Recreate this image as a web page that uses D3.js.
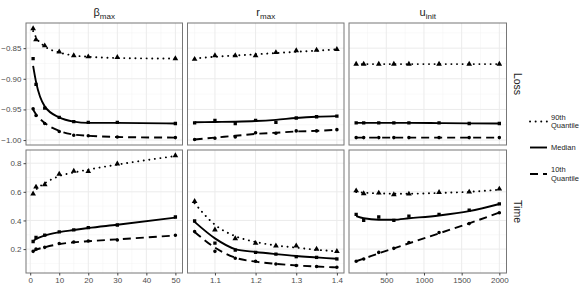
<!DOCTYPE html>
<html><head><meta charset="utf-8">
<script src="https://cdn.jsdelivr.net/npm/d3@7"></script>
<style>body{margin:0;background:#fff}svg{display:block;font-family:"Liberation Sans",Arial,sans-serif}</style>
</head><body><svg id="c" width="588" height="290"></svg>
<script>
// ---- data ----
const xBeta = [1, 2, 5, 10, 15, 20, 30, 50];
const xR = [1.05, 1.1, 1.15, 1.2, 1.25, 1.3, 1.35, 1.4];
const xU = [100, 200, 400, 600, 800, 1200, 1600, 2000];

const xTicksBeta = [0, 10, 20, 30, 40, 50];
const xTicksR = [1.1, 1.2, 1.3, 1.4];
const xTicksU = [500, 1000, 1500, 2000];
const yTicksLoss = [-0.85, -0.90, -0.95, -1.00];
const yTicksTime = [0.2, 0.4, 0.6, 0.8];

const colLabels = [["β", "max"], ["r", "max"], ["u", "init"]];
const rowLabels = ["Loss", "Time"];
const seriesNames = ["90th\nQuantile", "Median", "10th\nQuantile"];

// Loss: observed points
const lossBetaQ90 = [-0.818, -0.836, -0.846, -0.856, -0.862, -0.864, -0.865, -0.867];
const lossBetaMed = [-0.867, -0.909, -0.948, -0.963, -0.970, -0.971, -0.971, -0.973];
const lossBetaQ10 = [-0.949, -0.960, -0.973, -0.986, -0.992, -0.993, -0.995, -0.996];
const lossRQ90 = [-0.868, -0.862, -0.862, -0.862, -0.857, -0.854, -0.853, -0.852];
const lossRMed = [-0.972, -0.968, -0.973, -0.968, -0.971, -0.964, -0.962, -0.961];
const lossRQ10 = [-0.999, -0.997, -0.995, -0.988, -0.989, -0.985, -0.985, -0.983];
const lossUQ90 = [-0.876, -0.876, -0.876, -0.876, -0.876, -0.876, -0.876, -0.876];
const lossUMed = [-0.972, -0.972, -0.972, -0.972, -0.972, -0.972, -0.973, -0.973];
const lossUQ10 = [-0.996, -0.996, -0.996, -0.996, -0.996, -0.996, -0.996, -0.996];
// Loss: smoothed fits
const lossBetaQ90Fit = [-0.822, -0.832, -0.847, -0.857, -0.862, -0.864, -0.866, -0.867];
const lossBetaMedFit = [-0.879, -0.905, -0.945, -0.963, -0.970, -0.972, -0.972, -0.973];
const lossBetaQ10Fit = [-0.950, -0.958, -0.972, -0.985, -0.991, -0.993, -0.995, -0.996];
const lossRQ90Fit = [-0.867, -0.864, -0.862, -0.860, -0.858, -0.856, -0.854, -0.852];
const lossRMedFit = [-0.971, -0.9705, -0.970, -0.969, -0.967, -0.964, -0.962, -0.961];
const lossRQ10Fit = [-0.999, -0.996, -0.993, -0.990, -0.988, -0.986, -0.985, -0.983];
const lossUQ90Fit = [-0.876, -0.876, -0.876, -0.876, -0.876, -0.876, -0.876, -0.876];
const lossUMedFit = [-0.972, -0.972, -0.972, -0.972, -0.972, -0.9723, -0.9727, -0.973];
const lossUQ10Fit = [-0.996, -0.996, -0.996, -0.996, -0.996, -0.996, -0.996, -0.996];

// Time: observed points
const timeBetaQ90 = [0.586, 0.634, 0.650, 0.724, 0.745, 0.742, 0.795, 0.853];
const timeBetaMed = [0.253, 0.281, 0.297, 0.320, 0.334, 0.350, 0.368, 0.424];
const timeBetaQ10 = [0.184, 0.200, 0.212, 0.239, 0.250, 0.257, 0.264, 0.297];
const timeRQ90 = [0.534, 0.335, 0.274, 0.241, 0.223, 0.223, 0.200, 0.184];
const timeRMed = [0.396, 0.241, 0.193, 0.177, 0.165, 0.147, 0.142, 0.131];
const timeRQ10 = [0.322, 0.184, 0.136, 0.115, 0.096, 0.085, 0.078, 0.073];
const timeUQ90 = [0.608, 0.588, 0.592, 0.581, 0.585, 0.597, 0.599, 0.620];
const timeUMed = [0.442, 0.401, 0.424, 0.401, 0.430, 0.442, 0.472, 0.516];
const timeUQ10 = [0.115, 0.131, 0.177, 0.205, 0.246, 0.316, 0.378, 0.454];
// Time: smoothed fits
const timeBetaQ90Fit = [0.590, 0.615, 0.660, 0.710, 0.735, 0.755, 0.790, 0.850];
const timeBetaMedFit = [0.255, 0.270, 0.295, 0.318, 0.333, 0.347, 0.370, 0.420];
const timeBetaQ10Fit = [0.185, 0.195, 0.213, 0.235, 0.247, 0.255, 0.268, 0.295];
const timeRQ90Fit = [0.520, 0.370, 0.290, 0.250, 0.225, 0.210, 0.195, 0.185];
const timeRMedFit = [0.390, 0.275, 0.200, 0.180, 0.165, 0.152, 0.142, 0.132];
const timeRQ10Fit = [0.320, 0.210, 0.140, 0.112, 0.097, 0.086, 0.078, 0.072];
const timeUQ90Fit = [0.598, 0.594, 0.589, 0.587, 0.587, 0.592, 0.600, 0.615];
const timeUMedFit = [0.430, 0.415, 0.405, 0.405, 0.415, 0.435, 0.465, 0.515];
const timeUQ10Fit = [0.115, 0.133, 0.170, 0.205, 0.240, 0.310, 0.380, 0.455];

// ---- layout ----
const svg = d3.select("#c");
const colsPx = [[26, 182.5], [187.5, 344], [349, 506.5]];
const rowsPx = [[23, 145], [150, 273]];
const xs = [xBeta, xR, xU];
const xTicks = [xTicksBeta, xTicksR, xTicksU];
const yTicks = [yTicksLoss, yTicksTime];
const xFmt = [d3.format("d"), d3.format(".1f"), d3.format("d")];
const yFmt = [d3.format(".2f"), d3.format(".1f")];

const points = [
  [[lossBetaQ90, lossBetaMed, lossBetaQ10], [lossRQ90, lossRMed, lossRQ10], [lossUQ90, lossUMed, lossUQ10]],
  [[timeBetaQ90, timeBetaMed, timeBetaQ10], [timeRQ90, timeRMed, timeRQ10], [timeUQ90, timeUMed, timeUQ10]]
];
const fits = [
  [[lossBetaQ90Fit, lossBetaMedFit, lossBetaQ10Fit], [lossRQ90Fit, lossRMedFit, lossRQ10Fit], [lossUQ90Fit, lossUMedFit, lossUQ10Fit]],
  [[timeBetaQ90Fit, timeBetaMedFit, timeBetaQ10Fit], [timeRQ90Fit, timeRMedFit, timeRQ10Fit], [timeUQ90Fit, timeUMedFit, timeUQ10Fit]]
];
const dashes = ["0.1,5.5", null, "8,5"];
const caps = ["round", "butt", "butt"];
const symbols = [d3.symbolTriangle, d3.symbolSquare, d3.symbolCircle];
const symSize = [14, 11, 10];

function expand(ext) { const d = (ext[1] - ext[0]) * 0.05; return [ext[0] - d, ext[1] + d]; }

const xScales = xs.map((xv, c) => d3.scaleLinear().domain(expand(d3.extent(xv))).range(colsPx[c]));
const yScales = points.map((row, r) => {
  const all = row.flat(2).concat(fits[r].flat(2));
  return d3.scaleLinear().domain(expand(d3.extent(all))).range([rowsPx[r][1], rowsPx[r][0]]);
});

function minorTicks(t) {
  const out = [];
  for (let i = 0; i < t.length - 1; i++) out.push((t[i] + t[i + 1]) / 2);
  const s = t[1] - t[0];
  out.push(t[0] - s / 2, t[t.length - 1] + s / 2);
  return out;
}

for (let r = 0; r < 2; r++) {
  for (let c = 0; c < 3; c++) {
    const x = xScales[c], y = yScales[r];
    const g = svg.append("g");
    const [x0, x1] = colsPx[c], [y0, y1] = rowsPx[r];
    g.append("rect").attr("x", x0).attr("y", y0).attr("width", x1 - x0).attr("height", y1 - y0).attr("fill", "#fff");
    const yt = yTicks[r], xt = xTicks[c];
    const inY = v => y(v) >= y0 && y(v) <= y1;
    const inX = v => x(v) >= x0 && x(v) <= x1;
    minorTicks(yt).filter(inY).forEach(v => g.append("line").attr("x1", x0).attr("x2", x1).attr("y1", y(v)).attr("y2", y(v)).attr("stroke", "#f3f3f3").attr("stroke-width", 0.5));
    minorTicks(xt).filter(inX).forEach(v => g.append("line").attr("y1", y0).attr("y2", y1).attr("x1", x(v)).attr("x2", x(v)).attr("stroke", "#f3f3f3").attr("stroke-width", 0.5));
    yt.filter(inY).forEach(v => g.append("line").attr("x1", x0).attr("x2", x1).attr("y1", y(v)).attr("y2", y(v)).attr("stroke", "#ebebeb").attr("stroke-width", 1));
    xt.filter(inX).forEach(v => g.append("line").attr("y1", y0).attr("y2", y1).attr("x1", x(v)).attr("x2", x(v)).attr("stroke", "#ebebeb").attr("stroke-width", 1));

    const clip = "clip" + r + c;
    svg.append("clipPath").attr("id", clip).append("rect").attr("x", x0).attr("y", y0).attr("width", x1 - x0).attr("height", y1 - y0);
    const dg = g.append("g").attr("clip-path", `url(#${clip})`);
    for (let s = 0; s < 3; s++) {
      const xv = xs[c];
      const fit = fits[r][c][s];
      const line = d3.line().x((d, i) => x(xv[i])).y(d => y(d)).curve(d3.curveMonotoneX);
      dg.append("path").attr("d", line(fit)).attr("fill", "none").attr("stroke", "#000")
        .attr("stroke-width", 1.9).attr("stroke-dasharray", dashes[s]).attr("stroke-linecap", caps[s]);
      const pts = points[r][c][s];
      dg.selectAll(null).data(pts).enter().append("path")
        .attr("d", d3.symbol().type(symbols[s]).size(symSize[s]))
        .attr("transform", (d, i) => `translate(${x(xv[i])},${y(d)})`)
        .attr("fill", "#000");
    }
    g.append("rect").attr("x", x0).attr("y", y0).attr("width", x1 - x0).attr("height", y1 - y0)
      .attr("fill", "none").attr("stroke", "#777").attr("stroke-width", 1);

    if (c === 0) {
      const ax = d3.axisLeft(y).tickValues(yt).tickFormat(yFmt[r]).tickSize(2.5).tickPadding(2);
      const ag = svg.append("g").attr("transform", `translate(${x0},0)`).call(ax);
      ag.select(".domain").remove();
      ag.selectAll("line").attr("stroke", "#444");
      ag.selectAll("text").attr("fill", "#4d4d4d").attr("font-size", 8);
    }
    if (r === 1) {
      const ax = d3.axisBottom(x).tickValues(xt).tickFormat(xFmt[c]).tickSize(2.5).tickPadding(2);
      const ag = svg.append("g").attr("transform", `translate(0,${y1})`).call(ax);
      ag.select(".domain").remove();
      ag.selectAll("line").attr("stroke", "#444");
      ag.selectAll("text").attr("fill", "#4d4d4d").attr("font-size", 8);
    }
    if (r === 0) {
      const t = svg.append("text").attr("x", (x0 + x1) / 2).attr("y", 16).attr("text-anchor", "middle")
        .attr("fill", "#1a1a1a").attr("font-size", 11);
      t.append("tspan").text(colLabels[c][0]);
      t.append("tspan").attr("font-size", 8).attr("dy", 3).text(colLabels[c][1]);
    }
    if (c === 2) {
      svg.append("text").attr("transform", `translate(${x1 + 7},${(y0 + y1) / 2}) rotate(90)`)
        .attr("text-anchor", "middle").attr("fill", "#1a1a1a").attr("font-size", 10.5).text(rowLabels[r]);
    }
  }
}

// ---- legend ----
const legY = [121.5, 147.5, 174];
seriesNames.forEach((name, s) => {
  svg.append("line").attr("x1", 530).attr("x2", 547).attr("y1", legY[s]).attr("y2", legY[s])
    .attr("stroke", "#000").attr("stroke-width", 1.9).attr("stroke-dasharray", dashes[s]).attr("stroke-linecap", caps[s]);
  const lines = name.split("\n");
  const t = svg.append("text").attr("x", 551).attr("fill", "#1a1a1a").attr("font-size", 7.5);
  lines.forEach((ln, i) => {
    t.append("tspan").attr("x", 551).attr("y", legY[s] + 2.7 + (i - (lines.length - 1) / 2) * 8.5).text(ln);
  });
});
</script></body></html>
